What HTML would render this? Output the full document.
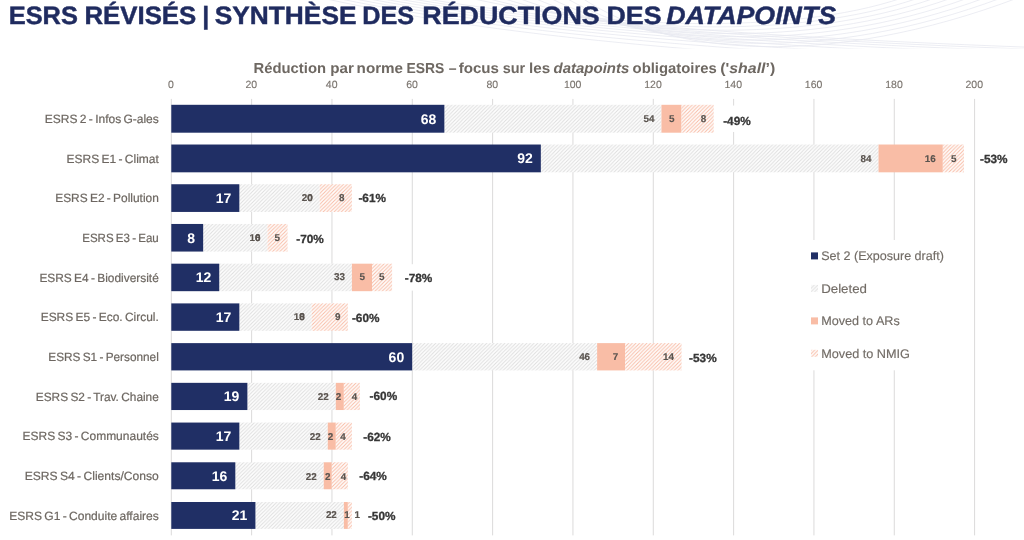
<!DOCTYPE html>
<html lang="fr">
<head>
<meta charset="utf-8">
<title>ESRS révisés | Synthèse des réductions des datapoints</title>
<style>
html,body{margin:0;padding:0;background:#fff;}
body{width:1024px;height:540px;overflow:hidden;position:relative;font-family:"Liberation Sans",Arial,sans-serif;}
svg{position:absolute;left:0;top:0;display:block;}
text{font-family:"Liberation Sans",Arial,sans-serif;text-rendering:geometricPrecision;}
.title{font-size:25px;font-weight:700;fill:#1f2b5f;stroke:#1f2b5f;stroke-width:0.45px;}
.ctitle{font-size:14.5px;font-weight:700;fill:#6e6862;}
.tick{font-size:10.5px;fill:#79736d;stroke:#79736d;stroke-width:0.12px;text-anchor:middle;}
.cat{font-size:12px;fill:#6d6761;stroke:#6d6761;stroke-width:0.2px;word-spacing:-1px;}
.v1{font-size:14px;font-weight:700;fill:#fff;text-anchor:end;}
.v2{font-size:9.9px;font-weight:700;fill:#5a544f;stroke:#5a544f;stroke-width:0.15px;text-anchor:end;}
.v2c{font-size:9.9px;font-weight:700;fill:#5a544f;stroke:#5a544f;stroke-width:0.15px;text-anchor:middle;}
.pct{font-size:11.8px;font-weight:700;fill:#363636;stroke:#363636;stroke-width:0.3px;}
.leg{font-size:12.5px;fill:#726c66;stroke:#726c66;stroke-width:0.15px;}
</style>
</head>
<body>
<svg width="1024" height="540" viewBox="0 0 1024 540">
<defs>
<pattern id="hg" width="3.64" height="3.64" patternUnits="userSpaceOnUse">
<rect width="3.64" height="3.64" fill="#fefefe"/>
<path d="M-0.91,0.91 L0.91,-0.91 M0,3.64 L3.64,0 M2.73,4.55 L4.55,2.73" stroke="#dedede" stroke-width="1"/>
</pattern>
<pattern id="hs" width="3.64" height="3.64" patternUnits="userSpaceOnUse">
<rect width="3.64" height="3.64" fill="#fffefd"/>
<path d="M-0.91,0.91 L0.91,-0.91 M0,3.64 L3.64,0 M2.73,4.55 L4.55,2.73" stroke="#f8bba5" stroke-width="0.95"/>
</pattern>
</defs>

<clipPath id="hdr"><rect x="0" y="0" width="1024" height="48.5"/></clipPath>
<g fill="none" stroke="#e7e9f0" stroke-width="0.8" clip-path="url(#hdr)">
<path d="M322.0,-2 C422.0,20.0 532.0,36.0 702.0,50.0"/>
<path d="M336.0,-2 C444.0,20.5 568.0,36.5 760.0,50.0"/>
<path d="M350.0,-2 C466.0,21.0 604.0,37.0 818.0,50.0"/>
<path d="M364.0,-2 C488.0,21.5 640.0,37.5 876.0,50.0"/>
<path d="M378.0,-2 C510.0,22.0 676.0,38.0 934.0,50.0"/>
<path d="M392.0,-2 C532.0,22.5 712.0,38.5 992.0,50.0"/>
<path d="M406.0,-2 C554.0,23.0 748.0,39.0 1050.0,50.0"/>
<path d="M420.0,-2 C576.0,23.5 784.0,39.5 1108.0,50.0"/>
<path d="M470.0,-2 C600.0,28.0 790.0,36.0 902.0,-2"/>
<path d="M486.0,-2 C610.0,32.2 796.0,40.6 918.5,-2"/>
<path d="M502.0,-2 C620.0,36.4 802.0,45.2 935.0,-2"/>
<path d="M518.0,-2 C630.0,40.6 808.0,49.8 951.5,-2"/>
<path d="M534.0,-2 C640.0,44.8 814.0,54.4 968.0,-2"/>
<path d="M550.0,-2 C650.0,49.0 820.0,59.0 984.5,-2"/>
<path d="M566.0,-2 C660.0,53.2 826.0,63.6 1001.0,-2"/>
<path d="M582.0,-2 C670.0,57.4 832.0,68.2 1017.5,-2"/>
</g>
<text class="title" x="8.70" y="24.1" textLength="69.20" lengthAdjust="spacingAndGlyphs">ESRS</text>
<text class="title" x="84.40" y="24.1" textLength="111.90" lengthAdjust="spacingAndGlyphs">RÉVISÉS</text>
<text class="title" x="205.80" y="24.1" text-anchor="middle">|</text>
<text class="title" x="214.70" y="24.1" textLength="141.80" lengthAdjust="spacingAndGlyphs">SYNTHÈSE</text>
<text class="title" x="362.30" y="24.1" textLength="51.90" lengthAdjust="spacingAndGlyphs">DES</text>
<text class="title" x="422.30" y="24.1" textLength="177.40" lengthAdjust="spacingAndGlyphs">RÉDUCTIONS</text>
<text class="title" x="606.50" y="24.1" textLength="55.00" lengthAdjust="spacingAndGlyphs">DES</text>
<text class="title" x="666.20" y="24.1" textLength="169.90" lengthAdjust="spacingAndGlyphs" font-style="italic">DATAPOINTS</text>
<text class="ctitle" x="253.50" y="72.7" textLength="72.50" lengthAdjust="spacingAndGlyphs">Réduction</text>
<text class="ctitle" x="330.30" y="72.7" textLength="23.60" lengthAdjust="spacingAndGlyphs">par</text>
<text class="ctitle" x="356.60" y="72.7" textLength="46.50" lengthAdjust="spacingAndGlyphs">norme</text>
<text class="ctitle" x="406.40" y="72.7" textLength="37.80" lengthAdjust="spacingAndGlyphs">ESRS</text>
<text class="ctitle" x="448.80" y="72.7" textLength="7.80" lengthAdjust="spacingAndGlyphs">–</text>
<text class="ctitle" x="458.70" y="72.7" textLength="40.30" lengthAdjust="spacingAndGlyphs">focus</text>
<text class="ctitle" x="502.70" y="72.7" textLength="22.50" lengthAdjust="spacingAndGlyphs">sur</text>
<text class="ctitle" x="529.00" y="72.7" textLength="21.20" lengthAdjust="spacingAndGlyphs">les</text>
<text class="ctitle" x="553.50" y="72.7" textLength="75.80" lengthAdjust="spacingAndGlyphs" font-style="italic">datapoints</text>
<text class="ctitle" x="632.60" y="72.7" textLength="84.20" lengthAdjust="spacingAndGlyphs">obligatoires</text>
<text class="ctitle" x="720.2" y="72.7" textLength="55" lengthAdjust="spacingAndGlyphs">('<tspan font-style="italic">shall</tspan>’)</text>
<g stroke="#dbdada" stroke-width="1">
<line x1="171.30" y1="98.90" x2="171.30" y2="535.38"/>
<line x1="251.63" y1="98.90" x2="251.63" y2="535.38"/>
<line x1="331.96" y1="98.90" x2="331.96" y2="535.38"/>
<line x1="412.29" y1="98.90" x2="412.29" y2="535.38"/>
<line x1="492.62" y1="98.90" x2="492.62" y2="535.38"/>
<line x1="572.95" y1="98.90" x2="572.95" y2="535.38"/>
<line x1="653.28" y1="98.90" x2="653.28" y2="535.38"/>
<line x1="733.61" y1="98.90" x2="733.61" y2="535.38"/>
<line x1="813.94" y1="98.90" x2="813.94" y2="535.38"/>
<line x1="894.27" y1="98.90" x2="894.27" y2="535.38"/>
<line x1="974.60" y1="98.90" x2="974.60" y2="535.38"/>
</g>
<text class="tick" x="171.00" y="87.9">0</text>
<text class="tick" x="251.33" y="87.9">20</text>
<text class="tick" x="331.66" y="87.9">40</text>
<text class="tick" x="411.99" y="87.9">60</text>
<text class="tick" x="492.32" y="87.9">80</text>
<text class="tick" x="572.65" y="87.9">100</text>
<text class="tick" x="652.98" y="87.9">120</text>
<text class="tick" x="733.31" y="87.9">140</text>
<text class="tick" x="813.64" y="87.9">160</text>
<text class="tick" x="893.97" y="87.9">180</text>
<text class="tick" x="974.30" y="87.9">200</text>
<rect x="803" y="240" width="160" height="130.3" fill="#fff"/>
<text class="cat" x="44.80" y="123.05" textLength="114.00" lengthAdjust="spacingAndGlyphs">ESRS 2 - Infos G-ales</text>
<rect x="444.36" y="104.80" width="217.08" height="27.9" fill="url(#hg)"/>
<rect x="661.44" y="104.80" width="20.10" height="27.9" fill="#f9bda6"/>
<rect x="681.54" y="104.80" width="32.16" height="27.9" fill="url(#hs)"/>
<rect x="171.30" y="104.80" width="273.06" height="27.9" fill="#202f65"/>
<text class="v1" x="436.36" y="123.55">68</text>
<text class="v2" x="654.44" y="121.90">54</text>
<text class="v2" x="674.54" y="121.90">5</text>
<text class="v2" x="706.20" y="121.90">8</text>
<rect x="720.20" y="105.55" width="34" height="26.4" fill="#fff"/>
<text class="pct" x="723.20" y="124.75">-49%</text>
<text class="cat" x="66.50" y="162.72" textLength="92.30" lengthAdjust="spacingAndGlyphs">ESRS E1 - Climat</text>
<rect x="540.84" y="144.52" width="337.68" height="27.8" fill="url(#hg)"/>
<rect x="878.52" y="144.52" width="64.32" height="27.8" fill="#f9bda6"/>
<rect x="942.84" y="144.52" width="21.16" height="27.8" fill="url(#hs)"/>
<rect x="171.30" y="144.52" width="369.54" height="27.8" fill="#202f65"/>
<text class="v1" x="532.84" y="163.22">92</text>
<text class="v2" x="871.52" y="161.52">84</text>
<text class="v2" x="935.84" y="161.52">16</text>
<text class="v2" x="956.50" y="161.52">5</text>
<rect x="977.00" y="145.22" width="34" height="26.4" fill="#fff"/>
<text class="pct" x="980.00" y="163.42">-53%</text>
<text class="cat" x="55.20" y="202.39" textLength="103.60" lengthAdjust="spacingAndGlyphs">ESRS E2 - Pollution</text>
<rect x="239.34" y="184.24" width="80.40" height="27.7" fill="url(#hg)"/>
<rect x="319.74" y="184.24" width="32.16" height="27.7" fill="url(#hs)"/>
<rect x="171.30" y="184.24" width="68.04" height="27.7" fill="#202f65"/>
<text class="v1" x="231.34" y="202.89">17</text>
<text class="v2" x="312.74" y="201.19">20</text>
<text class="v2" x="312.74" y="201.19">0</text>
<text class="v2" x="344.40" y="201.19">8</text>
<rect x="355.40" y="184.89" width="34" height="26.4" fill="#fff"/>
<text class="pct" x="358.40" y="202.19">-61%</text>
<text class="cat" x="82.20" y="242.06" textLength="76.60" lengthAdjust="spacingAndGlyphs">ESRS E3 - Eau</text>
<rect x="203.16" y="223.96" width="64.32" height="27.6" fill="url(#hg)"/>
<rect x="267.48" y="223.96" width="20.10" height="27.6" fill="url(#hs)"/>
<rect x="171.30" y="223.96" width="31.86" height="27.6" fill="#202f65"/>
<text class="v1" x="195.16" y="242.56">8</text>
<text class="v2" x="260.48" y="240.81">16</text>
<text class="v2" x="260.48" y="240.81">0</text>
<text class="v2" x="280.08" y="240.81">5</text>
<rect x="293.30" y="224.56" width="34" height="26.4" fill="#fff"/>
<text class="pct" x="296.30" y="242.66">-70%</text>
<text class="cat" x="39.40" y="281.73" textLength="119.40" lengthAdjust="spacingAndGlyphs">ESRS E4 - Biodiversité</text>
<rect x="219.24" y="263.68" width="132.66" height="27.5" fill="url(#hg)"/>
<rect x="351.90" y="263.68" width="20.10" height="27.5" fill="#f9bda6"/>
<rect x="372.00" y="263.68" width="20.10" height="27.5" fill="url(#hs)"/>
<rect x="171.30" y="263.68" width="47.94" height="27.5" fill="#202f65"/>
<text class="v1" x="211.24" y="282.23">12</text>
<text class="v2" x="344.90" y="280.43">33</text>
<text class="v2" x="365.00" y="280.43">5</text>
<text class="v2" x="384.60" y="280.43">5</text>
<rect x="401.80" y="264.23" width="34" height="26.4" fill="#fff"/>
<text class="pct" x="404.80" y="281.78">-78%</text>
<text class="cat" x="40.70" y="321.40" textLength="118.10" lengthAdjust="spacingAndGlyphs">ESRS E5 - Eco. Circul.</text>
<rect x="239.34" y="303.40" width="72.36" height="27.4" fill="url(#hg)"/>
<rect x="311.70" y="303.40" width="36.18" height="27.4" fill="url(#hs)"/>
<rect x="171.30" y="303.40" width="68.04" height="27.4" fill="#202f65"/>
<text class="v1" x="231.34" y="321.90">17</text>
<text class="v2" x="304.70" y="320.20">18</text>
<text class="v2" x="304.70" y="320.20">0</text>
<text class="v2" x="340.38" y="320.20">9</text>
<rect x="348.90" y="303.90" width="34" height="26.4" fill="#fff"/>
<text class="pct" x="351.90" y="322.20">-60%</text>
<text class="cat" x="48.30" y="361.07" textLength="110.50" lengthAdjust="spacingAndGlyphs">ESRS S1 - Personnel</text>
<rect x="412.20" y="343.12" width="184.92" height="27.3" fill="url(#hg)"/>
<rect x="597.12" y="343.12" width="28.14" height="27.3" fill="#f9bda6"/>
<rect x="625.26" y="343.12" width="56.28" height="27.3" fill="url(#hs)"/>
<rect x="171.30" y="343.12" width="240.90" height="27.3" fill="#202f65"/>
<text class="v1" x="404.20" y="361.57">60</text>
<text class="v2" x="590.12" y="360.07">46</text>
<text class="v2" x="618.26" y="360.07">7</text>
<text class="v2" x="674.04" y="360.07">14</text>
<rect x="686.10" y="343.57" width="34" height="26.4" fill="#fff"/>
<text class="pct" x="689.10" y="362.17">-53%</text>
<text class="cat" x="35.80" y="400.74" textLength="123.00" lengthAdjust="spacingAndGlyphs">ESRS S2 - Trav. Chaine</text>
<rect x="247.38" y="382.84" width="88.44" height="27.2" fill="url(#hg)"/>
<rect x="335.82" y="382.84" width="8.04" height="27.2" fill="#f9bda6"/>
<rect x="343.86" y="382.84" width="16.08" height="27.2" fill="url(#hs)"/>
<rect x="171.30" y="382.84" width="76.08" height="27.2" fill="#202f65"/>
<text class="v1" x="239.38" y="401.24">19</text>
<text class="v2" x="328.82" y="399.94">22</text>
<text class="v2c" x="338.40" y="399.94">2</text>
<text class="v2c" x="354.40" y="399.94">4</text>
<rect x="366.60" y="383.24" width="34" height="26.4" fill="#fff"/>
<text class="pct" x="369.60" y="400.14">-60%</text>
<text class="cat" x="22.50" y="440.41" textLength="136.30" lengthAdjust="spacingAndGlyphs">ESRS S3 - Communautés</text>
<rect x="239.34" y="422.56" width="88.44" height="27.1" fill="url(#hg)"/>
<rect x="327.78" y="422.56" width="8.04" height="27.1" fill="#f9bda6"/>
<rect x="335.82" y="422.56" width="16.08" height="27.1" fill="url(#hs)"/>
<rect x="171.30" y="422.56" width="68.04" height="27.1" fill="#202f65"/>
<text class="v1" x="231.34" y="440.91">17</text>
<text class="v2" x="320.78" y="439.71">22</text>
<text class="v2c" x="330.50" y="439.71">2</text>
<text class="v2c" x="342.90" y="439.71">4</text>
<rect x="360.30" y="422.91" width="34" height="26.4" fill="#fff"/>
<text class="pct" x="363.30" y="440.71">-62%</text>
<text class="cat" x="24.70" y="480.08" textLength="134.10" lengthAdjust="spacingAndGlyphs">ESRS S4 - Clients/Conso</text>
<rect x="235.32" y="462.28" width="88.44" height="27.0" fill="url(#hg)"/>
<rect x="323.76" y="462.28" width="8.04" height="27.0" fill="#f9bda6"/>
<rect x="331.80" y="462.28" width="16.08" height="27.0" fill="url(#hs)"/>
<rect x="171.30" y="462.28" width="64.02" height="27.0" fill="#202f65"/>
<text class="v1" x="227.32" y="480.58">16</text>
<text class="v2" x="316.76" y="479.58">22</text>
<text class="v2c" x="327.80" y="479.58">2</text>
<text class="v2c" x="343.40" y="479.58">4</text>
<rect x="356.30" y="462.58" width="34" height="26.4" fill="#fff"/>
<text class="pct" x="359.30" y="480.38">-64%</text>
<text class="cat" x="9.20" y="519.75" textLength="149.60" lengthAdjust="spacingAndGlyphs">ESRS G1 - Conduite affaires</text>
<rect x="255.42" y="502.00" width="88.44" height="26.9" fill="url(#hg)"/>
<rect x="343.86" y="502.00" width="4.02" height="26.9" fill="#f9bda6"/>
<rect x="347.88" y="502.00" width="4.02" height="26.9" fill="url(#hs)"/>
<rect x="171.30" y="502.00" width="84.12" height="26.9" fill="#202f65"/>
<text class="v1" x="247.42" y="520.25">21</text>
<text class="v2" x="336.86" y="518.05">22</text>
<text class="v2c" x="347.00" y="518.05">1</text>
<text class="v2c" x="357.30" y="518.05">1</text>
<rect x="364.90" y="502.25" width="34" height="26.4" fill="#fff"/>
<text class="pct" x="367.90" y="520.00">-50%</text>
<rect x="811" y="252.40" width="7" height="7" fill="#202f65"/>
<text class="leg" x="821.2" y="260.40" textLength="122.70" lengthAdjust="spacingAndGlyphs">Set 2 (Exposure draft)</text>
<rect x="811" y="284.90" width="7" height="7" fill="url(#hg)"/>
<text class="leg" x="821.2" y="292.90" textLength="45.80" lengthAdjust="spacingAndGlyphs">Deleted</text>
<rect x="811" y="317.40" width="7" height="7" fill="#f9bda6"/>
<text class="leg" x="821.2" y="325.40" textLength="78.60" lengthAdjust="spacingAndGlyphs">Moved to ARs</text>
<rect x="811" y="349.80" width="7" height="7" fill="url(#hs)"/>
<text class="leg" x="821.2" y="357.80" textLength="88.80" lengthAdjust="spacingAndGlyphs">Moved to NMIG</text>
</svg>
</body>
</html>
